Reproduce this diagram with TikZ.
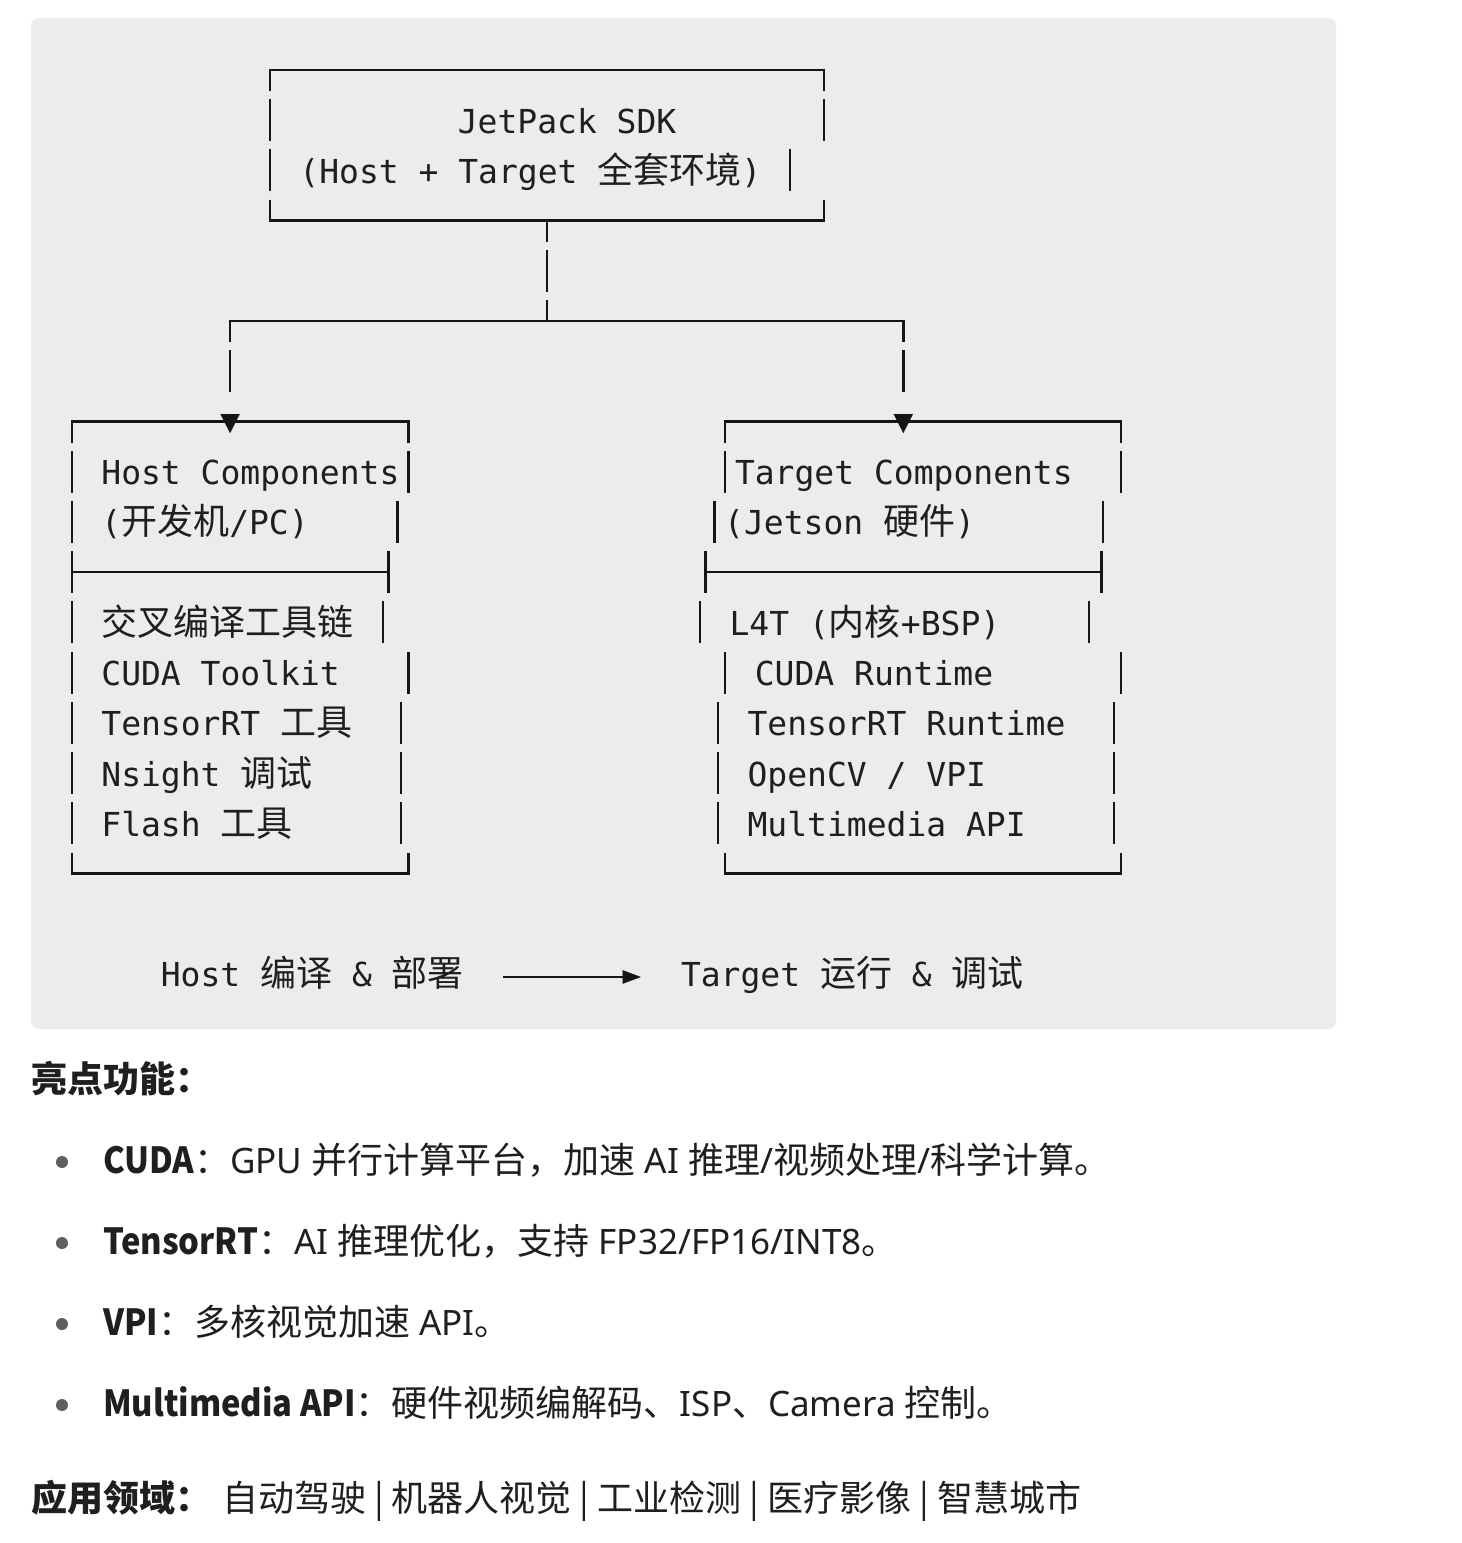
\documentclass[tikz,border=0pt]{standalone}
\usepackage{fontspec}
\setmainfont{Noto Sans}
\newfontfamily\cjkfam{Noto Sans CJK SC}
\newfontfamily\boldlat{Noto Sans CJK SC}[FakeStretch=0.91]
\newfontfamily\monofam{DejaVu Sans Mono}
\usetikzlibrary{arrows.meta}
\definecolor{codebg}{HTML}{ECECEC}
\definecolor{ink}{HTML}{1F1F1F}
\definecolor{boxline}{HTML}{151515}
\definecolor{dotgray}{HTML}{5F5F5F}
\newcommand\zh[1]{{\cjkfam\fontsize{36}{40}\selectfont #1}}
\newcommand\zhb[1]{{\cjkfam\bfseries\fontsize{36}{40}\selectfont #1}}
\newcommand\lb[1]{{\boldlat\bfseries\fontsize{36}{40}\selectfont #1}}
\newcommand\colx[1]{(71.7+19.8*(#1))}
\newcommand\rowy[1]{(70+50.22*((#1)-1))}
\newcommand\vbar[2]{\draw[boxrule] ({#1},{\rowy{#2}-21}) -- ({#1},{\rowy{#2}+21});}
\newcommand\boxtop[3]{\draw[boxrule] ({#1},{\rowy{#3}+21}) -- ({#1},{\rowy{#3}}) -- ({#2},{\rowy{#3}}) -- ({#2},{\rowy{#3}+21});}
\newcommand\boxbot[3]{\draw[boxrule] ({#1},{\rowy{#3}-21}) -- ({#1},{\rowy{#3}}) -- ({#2},{\rowy{#3}}) -- ({#2},{\rowy{#3}-21});}
\newcommand\boxmid[3]{\draw[boxrule] ({#1},{\rowy{#3}-21}) -- ({#1},{\rowy{#3}+21}) ({#1},{\rowy{#3}}) -- ({#2},{\rowy{#3}}) ({#2},{\rowy{#3}-21}) -- ({#2},{\rowy{#3}+21});}
\tikzset{
  codetext/.style={anchor=base west, inner sep=0pt, outer sep=0pt, text=ink, font=\monofam\fontsize{33}{40}\selectfont},
  bodytext/.style={anchor=base west, inner sep=0pt, outer sep=0pt, text=ink, font=\fontsize{35}{44}\selectfont},
  boxrule/.style={draw=boxline, line width=2.4pt},
  bulletdot/.style={circle, fill=dotgray, inner sep=0pt, minimum size=12pt},
  drop/.style={boxrule, dash pattern=on 21pt off 8.22pt on 42pt off 100pt, -{Triangle[length=19pt, width=19.3pt, line width=0.1pt]}},
  flowarrow/.style={boxrule, -{Triangle[length=18pt, width=13.5pt, line width=0.1pt]}}
}
\begin{document}
\begin{tikzpicture}[x=1pt, y=-1pt]
\useasboundingbox (0,0) rectangle (1462,1543);
\fill[white] (0,0) rectangle (1462,1543);
\fill[codebg, rounded corners=8pt] (31,18) rectangle (1336,1029);

% ---------- JetPack SDK box ----------
\boxtop{\colx{10}}{\colx{38}}{1}
\vbar{\colx{10}}{2} \vbar{\colx{38}}{2}
\vbar{\colx{10}}{3} \vbar{\colx{37}-14.4}{3}
\boxbot{\colx{10}}{\colx{38}}{4}
\node[codetext] (sdk1) at ({\colx{20}-9.9},{\rowy{2}+13}) {JetPack SDK};
\node[codetext] (sdk2) at ({\colx{12}-9.9},{\rowy{3}+13}) {(Host + Target \zh{全套环境})};

% ---------- connectors ----------
\coordinate (sdkS) at ({\colx{24}},{\rowy{4}});
\coordinate (split) at ({\colx{24}},{\rowy{6}});
\coordinate (hostJ) at ({\colx{8}},{\rowy{6}});
\coordinate (tgtJ) at ({\colx{42}},{\rowy{6}});
\coordinate (hostIn) at ({\colx{8}},{\rowy{8}+11.5});
\coordinate (tgtIn) at ({\colx{42}},{\rowy{8}+11.5});
\draw[boxrule, dash pattern=on 21pt off 8.22pt on 42pt off 8.22pt on 21pt off 100pt] (sdkS) -- (split);
\draw[boxrule, line cap=rect] (hostJ) -- (tgtJ);
\draw[drop] (hostJ) -- (hostIn);
\draw[drop] (tgtJ) -- (tgtIn);

% ---------- Host box ----------
\boxtop{\colx{0}}{\colx{17}}{8}
\vbar{\colx{0}}{9} \vbar{\colx{17}}{9}
\vbar{\colx{0}}{10} \vbar{\colx{17}-10.8}{10}
\boxmid{\colx{0}}{\colx{16}}{11}
\vbar{\colx{0}}{12} \vbar{\colx{17}-25.2}{12}
\vbar{\colx{0}}{13} \vbar{\colx{17}}{13}
\vbar{\colx{0}}{14} \vbar{\colx{17}-7.2}{14}
\vbar{\colx{0}}{15} \vbar{\colx{17}-7.2}{15}
\vbar{\colx{0}}{16} \vbar{\colx{17}-7.2}{16}
\boxbot{\colx{0}}{\colx{17}}{17}
\node[codetext] (h1) at ({\colx{2}-9.9},{\rowy{9}+13}) {Host Components};
\node[codetext] (h2) at ({\colx{2}-9.9},{\rowy{10}+13}) {(\zh{开发机}/PC)};
\node[codetext] (h3) at ({\colx{2}-9.9},{\rowy{12}+13}) {\zh{交叉编译工具链}};
\node[codetext] (h4) at ({\colx{2}-9.9},{\rowy{13}+13}) {CUDA Toolkit};
\node[codetext] (h5) at ({\colx{2}-9.9},{\rowy{14}+13}) {TensorRT \zh{工具}};
\node[codetext] (h6) at ({\colx{2}-9.9},{\rowy{15}+13}) {Nsight \zh{调试}};
\node[codetext] (h7) at ({\colx{2}-9.9},{\rowy{16}+13}) {Flash \zh{工具}};

% ---------- Target box ----------
\boxtop{\colx{33}}{\colx{53}}{8}
\vbar{\colx{33}}{9} \vbar{\colx{53}}{9}
\vbar{\colx{33}-10.8}{10} \vbar{\colx{53}-18}{10}
\boxmid{\colx{32}}{\colx{52}}{11}
\vbar{\colx{33}-25.2}{12} \vbar{\colx{53}-32.4}{12}
\vbar{\colx{33}}{13} \vbar{\colx{53}}{13}
\vbar{\colx{33}-7.2}{14} \vbar{\colx{53}-7.2}{14}
\vbar{\colx{33}-7.2}{15} \vbar{\colx{53}-7.2}{15}
\vbar{\colx{33}-7.2}{16} \vbar{\colx{53}-7.2}{16}
\boxbot{\colx{33}}{\colx{53}}{17}
\node[codetext] (t1) at ({\colx{34}-9.9},{\rowy{9}+13}) {Target Components};
\node[codetext] (t2) at ({\colx{34}-9.9-10.8},{\rowy{10}+13}) {(Jetson \zh{硬件})};
\node[codetext] (t3) at ({\colx{35}-9.9-25.2},{\rowy{12}+13}) {L4T (\zh{内核}+BSP)};
\node[codetext] (t4) at ({\colx{35}-9.9},{\rowy{13}+13}) {CUDA Runtime};
\node[codetext] (t5) at ({\colx{35}-9.9-7.2},{\rowy{14}+13}) {TensorRT Runtime};
\node[codetext] (t6) at ({\colx{35}-9.9-7.2},{\rowy{15}+13}) {OpenCV / VPI};
\node[codetext] (t7) at ({\colx{35}-9.9-7.2},{\rowy{16}+13}) {Multimedia API};

% ---------- flow line ----------
\node[codetext] (hf) at ({\colx{5}-9.9},{\rowy{19}+13}) {Host \zh{编译} \& \zh{部署}};
\node[codetext] (tf) at ({\colx{32}-9.9-14.4},{\rowy{19}+13}) {Target \zh{运行} \& \zh{调试}};
\draw[flowarrow] ([xshift=39.6pt, yshift=10pt]hf.base east) -- ([xshift=-40.3pt, yshift=10pt]tf.base west);

% ---------- text below ----------
\node[bodytext] (hl) at (31,1092) {\zhb{亮点功能：}};
\node[bulletdot] (b1) at (62,1162) {};
\node[bulletdot] (b2) at (62,1243) {};
\node[bulletdot] (b3) at (62,1324) {};
\node[bulletdot] (b4) at (62,1405) {};
\node[bodytext] (l1) at (103,1173) {\lb{CUDA}\zh{：}GPU \zh{并行计算平台，加速} AI \zh{推理}/\zh{视频处理}/\zh{科学计算。}};
\node[bodytext] (l2) at (103,1254) {\lb{TensorRT}\zh{：}AI \zh{推理优化，支持} FP32/FP16/INT8\zh{。}};
\node[bodytext] (l3) at (103,1335) {\lb{VPI}\zh{：多核视觉加速} API\zh{。}};
\node[bodytext] (l4) at (103,1416) {\lb{Multimedia API}\zh{：硬件视频编解码、}ISP\zh{、}Camera \zh{控制。}};
\node[bodytext] (app) at (31,1511) {\zhb{应用领域：}};
\node[bodytext] (appv) at (222,1511) {\zh{自动驾驶 | 机器人视觉 | 工业检测 | 医疗影像 | 智慧城市}};
\end{tikzpicture}
\end{document}
